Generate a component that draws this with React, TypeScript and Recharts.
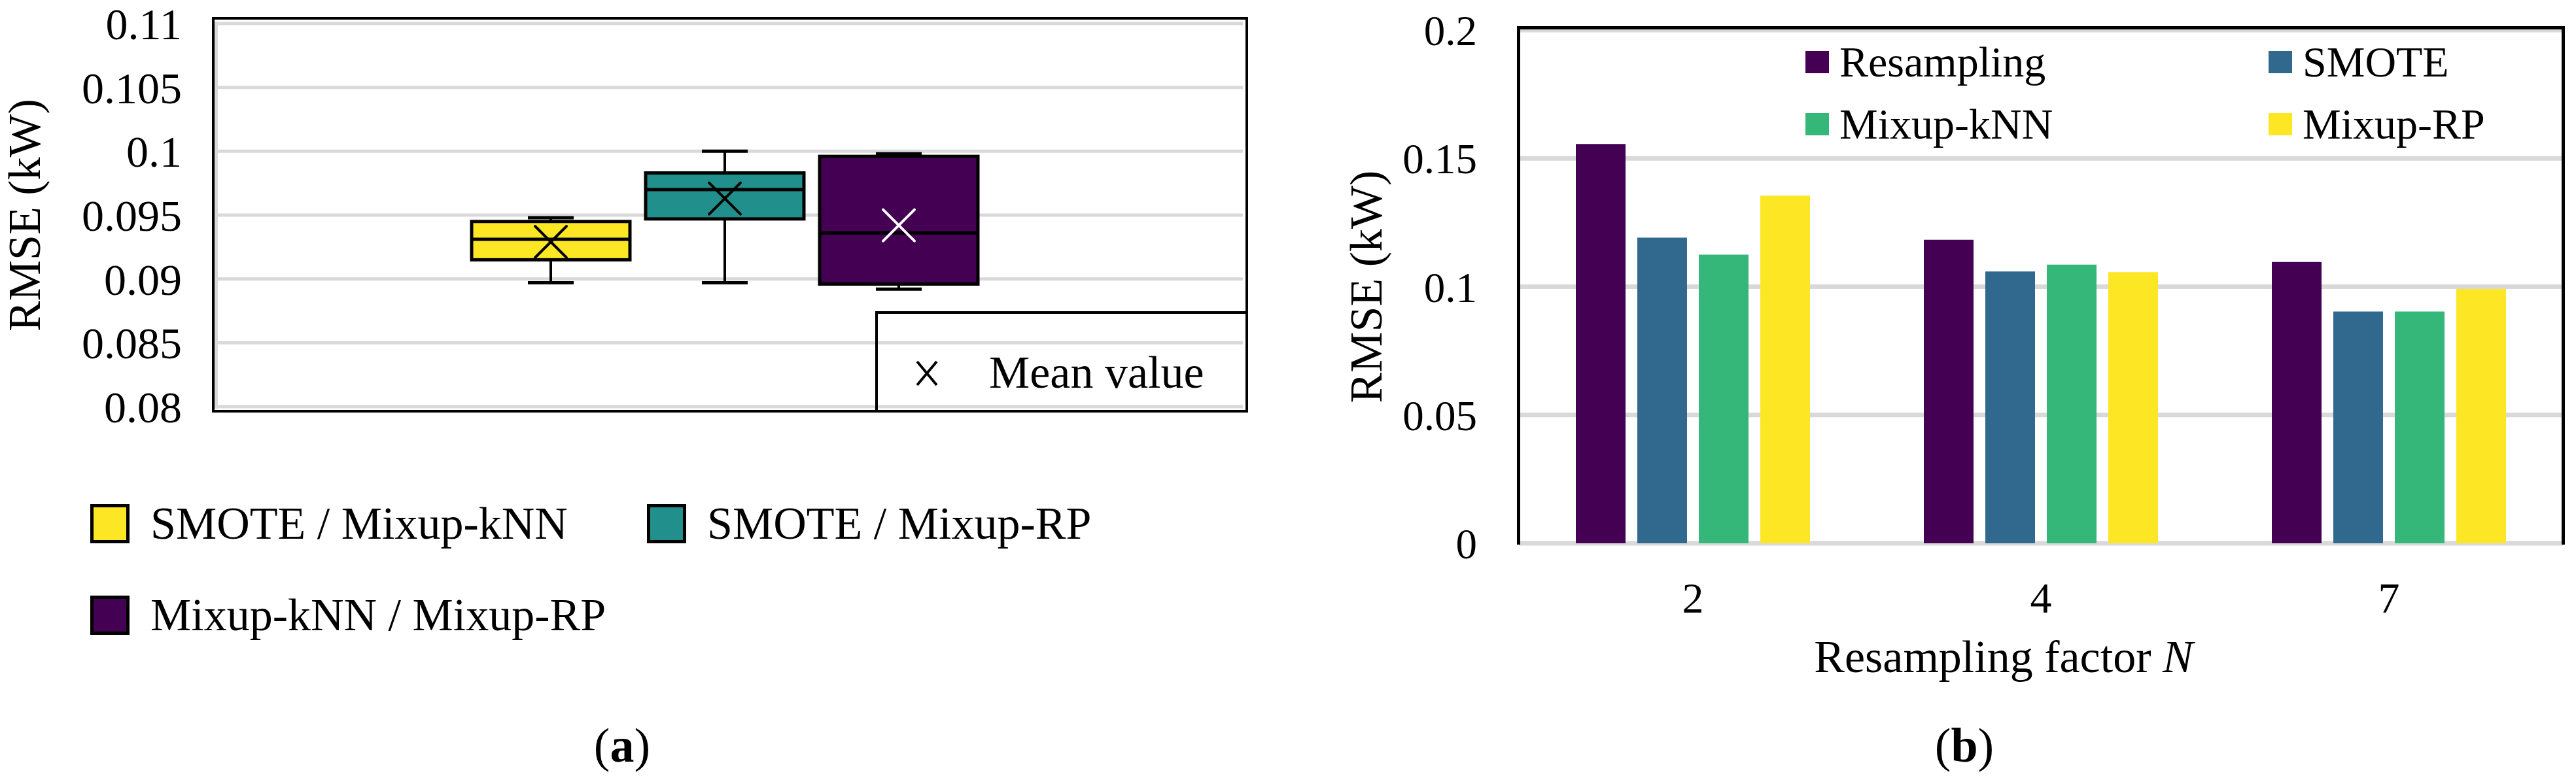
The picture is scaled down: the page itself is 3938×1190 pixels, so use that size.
import React from "react";
import { BarChart, ComposedChart, Bar, XAxis, YAxis, CartesianGrid, Label } from "recharts";

const FONT = '"Liberation Serif", "Times New Roman", serif';

// (a) box plots of the RMSE of each pair
const pairNames = ["SMOTE / Mixup-kNN", "SMOTE / Mixup-RP", "Mixup-kNN / Mixup-RP"];
const pairColors = ["#FDE725", "#21908C", "#440154"];
const meanMarkColors = ["#000000", "#000000", "#FFFFFF"];
const whiskerLow = [0.0897, 0.0897, 0.0892];
const quartile1 = [0.0915, 0.0947, 0.0896];
const medians = [0.0931, 0.097, 0.0936];
const quartile3 = [0.0945, 0.0983, 0.0996];
const whiskerHigh = [0.0948, 0.1, 0.0998];
const means = [0.0929, 0.0963, 0.0942];
const boxTicks = [0.08, 0.085, 0.09, 0.095, 0.1, 0.105, 0.11];

// (b) RMSE by resampling factor
const factors = ["2", "4", "7"];
const methods = ["Resampling", "SMOTE", "Mixup-kNN", "Mixup-RP"];
const methodColors = ["#440154", "#31688E", "#35B779", "#FDE725"];
const resampling = [0.1556, 0.1183, 0.1096];
const smote = [0.1191, 0.1059, 0.0903];
const mixupKnn = [0.1125, 0.1086, 0.0903];
const mixupRp = [0.1355, 0.1057, 0.0991];
const barTicks = [0, 0.05, 0.1, 0.15, 0.2];

const boxData = [{ group: "RMSE" }];
const barData = factors.map((f, i) => ({
  factor: f,
  Resampling: resampling[i],
  SMOTE: smote[i],
  "Mixup-kNN": mixupKnn[i],
  "Mixup-RP": mixupRp[i],
}));

const fmt = (v: number) => String(+v.toFixed(3));

// draws one box: the bar itself spans whiskerLow..whiskerHigh, so every
// other value is placed on the same scale the bar was drawn with
function boxShape(i: number) {
  return (props: any) => {
    const { x, y, width, height } = props;
    const top = Math.min(y, y + height);
    const h = Math.abs(height);
    const lo = whiskerLow[i];
    const hi = whiskerHigh[i];
    const py = (v: number) => top + ((hi - v) / (hi - lo)) * h;
    const cx = x + width / 2;
    const cap = 35;
    const m = 24;
    const my = py(means[i]);
    return (
      <g>
        <line x1={cx} x2={cx} y1={py(hi)} y2={py(quartile3[i])} stroke="#000" strokeWidth={4} />
        <line x1={cx} x2={cx} y1={py(quartile1[i])} y2={py(lo)} stroke="#000" strokeWidth={4} />
        <line x1={cx - cap} x2={cx + cap} y1={py(hi)} y2={py(hi)} stroke="#000" strokeWidth={5} />
        <line x1={cx - cap} x2={cx + cap} y1={py(lo)} y2={py(lo)} stroke="#000" strokeWidth={5} />
        <rect
          x={x}
          y={py(quartile3[i])}
          width={width}
          height={py(quartile1[i]) - py(quartile3[i])}
          fill={pairColors[i]}
          stroke="#000"
          strokeWidth={5}
        />
        <line x1={x} x2={x + width} y1={py(medians[i])} y2={py(medians[i])} stroke="#000" strokeWidth={5} />
        <path
          d={`M${cx - m},${my - m}L${cx + m},${my + m}M${cx + m},${my - m}L${cx - m},${my + m}`}
          stroke={meanMarkColors[i]}
          strokeWidth={4}
          strokeLinecap="round"
        />
      </g>
    );
  };
}

function yLabel(offsetX: number) {
  return (p: any) => {
    const vb = p.viewBox || { x: 0, y: 0, width: 0, height: 0 };
    const cx = vb.x + offsetX;
    const cy = vb.y + vb.height / 2;
    return (
      <text
        x={cx}
        y={cy}
        transform={`rotate(-90 ${cx} ${cy})`}
        textAnchor="middle"
        dominantBaseline="central"
        fontSize={70}
        fontFamily={FONT}
        fill="#000"
      >
        RMSE (kW)
      </text>
    );
  };
}

const xLabel = (p: any) => {
  const vb = p.viewBox || { x: 0, y: 0, width: 0, height: 0 };
  return (
    <text x={vb.x + vb.width / 2 - 57} y={vb.y + 197} textAnchor="middle" fontSize={70} fontFamily={FONT} fill="#000">
      <tspan>Resampling factor </tspan>
      <tspan fontStyle="italic">N</tspan>
    </text>
  );
};

const abs = (left: number, top: number): React.CSSProperties => ({ position: "absolute", left, top });

export default function App() {
  const leftLegendPos = [
    [138, 761],
    [989, 761],
    [138, 901],
  ];
  const rightLegendPos = [
    [2760, 78],
    [3468, 78],
    [2760, 173],
    [3468, 173],
  ];
  return (
    <div style={{ position: "absolute", left: 0, top: 0, width: 3938, height: 1190, background: "#fff", fontFamily: FONT, color: "#000" }}>
      {/* (a) */}
      <div style={abs(0, 0)}>
        <ComposedChart
          width={1910}
          height={700}
          data={boxData}
          margin={{ top: 36, right: 10, bottom: 78, left: 0 }}
          barGap={24}
          barCategoryGap={0}
        >
          <CartesianGrid vertical={false} stroke="#D9D9D9" strokeWidth={5} />
          <XAxis dataKey="group" hide padding={{ left: 0, right: 18 }} />
          <YAxis
            domain={[0.08, 0.11]}
            ticks={boxTicks}
            interval={0}
            allowDataOverflow
            width={333}
            axisLine={false}
            tickLine={false}
            tickSize={0}
            tickMargin={55}
            tickFormatter={fmt}
            tick={{ fill: "#000", fontSize: 68, fontFamily: FONT }}
          >
            <Label content={yLabel(37)} />
          </YAxis>
          {pairNames.map((n, i) => (
            <Bar
              key={n}
              name={n}
              dataKey={() => [whiskerLow[i], whiskerHigh[i]]}
              barSize={242}
              fill={pairColors[i]}
              shape={boxShape(i)}
              isAnimationActive={false}
            />
          ))}
        </ComposedChart>
      </div>
      <div style={{ ...abs(328, 33), width: 5, height: 592, background: "#D9D9D9" }} />
      <div style={{ ...abs(324, 26), width: 1584, height: 605, border: "4px solid #000", boxSizing: "border-box" }} />
      <div style={{ ...abs(1338, 476), width: 570, height: 155, border: "4px solid #000", boxSizing: "border-box" }}>
        <svg style={abs(58, 71)} width={34} height={40}>
          <path d="M2,2L32,38M32,2L2,38" stroke="#000" strokeWidth={4} />
        </svg>
        <div style={{ ...abs(170, 50), fontSize: 70, lineHeight: "80px", whiteSpace: "nowrap" }}>Mean value</div>
      </div>
      {pairNames.map((n, i) => (
        <div key={n} style={{ ...abs(leftLegendPos[i][0], leftLegendPos[i][1]), display: "flex", alignItems: "center", whiteSpace: "nowrap" }}>
          <div style={{ width: 60, height: 60, background: pairColors[i], border: "5px solid #000", boxSizing: "border-box" }} />
          <span style={{ marginLeft: 32, fontSize: 70, lineHeight: "80px" }}>{n}</span>
        </div>
      ))}
      <div style={{ ...abs(851, 1098), width: 200, textAlign: "center", fontSize: 74, lineHeight: "84px" }}>
        (<b>a</b>)
      </div>

      {/* (b) */}
      <div style={abs(1990, 0)}>
        <BarChart
          width={1938}
          height={1190}
          data={barData}
          margin={{ top: 46, right: 10, bottom: 159, left: 0 }}
          barGap={18}
          barCategoryGap="16%"
        >
          <CartesianGrid vertical={false} stroke="#D9D9D9" strokeWidth={7} />
          <XAxis
            dataKey="factor"
            height={200}
            interval={0}
            axisLine={false}
            tickLine={false}
            tickSize={0}
            tickMargin={59}
            tick={{ fill: "#000", fontSize: 66, fontFamily: FONT }}
          >
            <Label content={xLabel} />
          </XAxis>
          <YAxis
            domain={[0, 0.2]}
            ticks={barTicks}
            interval={0}
            width={332}
            axisLine={false}
            tickLine={false}
            tickSize={0}
            tickMargin={64}
            tickFormatter={fmt}
            tick={{ fill: "#000", fontSize: 65, fontFamily: FONT }}
          >
            <Label content={yLabel(98)} />
          </YAxis>
          {methods.map((m, i) => (
            <Bar key={m} dataKey={m} fill={methodColors[i]} barSize={76} isAnimationActive={false} />
          ))}
        </BarChart>
      </div>
      <div
        style={{
          ...abs(2319, 40),
          width: 1602,
          height: 793,
          borderTop: "5px solid #000",
          borderLeft: "5px solid #000",
          borderRight: "5px solid #000",
          boxSizing: "border-box",
        }}
      />
      {methods.map((m, i) => (
        <div key={m} style={{ ...abs(rightLegendPos[i][0], rightLegendPos[i][1]), display: "flex", alignItems: "center", whiteSpace: "nowrap" }}>
          <div style={{ width: 36, height: 34, background: methodColors[i] }} />
          <span style={{ marginLeft: 16, fontSize: 66, lineHeight: "34px" }}>{m}</span>
        </div>
      ))}
      <div style={{ ...abs(2903, 1098), width: 200, textAlign: "center", fontSize: 74, lineHeight: "84px" }}>
        (<b>b</b>)
      </div>
    </div>
  );
}
